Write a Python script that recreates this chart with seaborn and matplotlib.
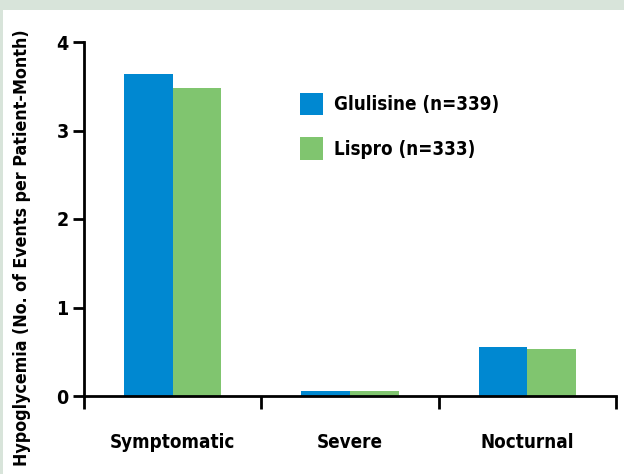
import matplotlib
matplotlib.use("Agg")
import matplotlib.pyplot as plt
import seaborn as sns
import pandas as pd
from matplotlib.patches import Patch, Rectangle

categories = ["Symptomatic", "Severe", "Nocturnal"]
glulisine = [3.64, 0.06, 0.55]
lispro = [3.48, 0.06, 0.53]
series_names = ["Glulisine (n=339)", "Lispro (n=333)"]
colors = ["#0088d1", "#80c56f"]
yticks = [0, 1, 2, 3, 4]

sns.set_style("white")
plt.rcParams["font.family"] = ["DejaVu Sans"]
plt.rcParams["font.stretch"] = "condensed"
plt.rcParams["font.weight"] = "bold"
plt.rcParams["text.color"] = "black"
plt.rcParams["axes.labelcolor"] = "black"
plt.rcParams["xtick.color"] = "black"
plt.rcParams["ytick.color"] = "black"

df = pd.DataFrame({
    "category": categories * 2,
    "value": glulisine + lispro,
    "series": [series_names[0]] * 3 + [series_names[1]] * 3,
})

fig = plt.figure(figsize=(6.24, 4.74), dpi=100)
fig.patch.set_facecolor("white")
fig.patches.append(Rectangle((0, 1 - 10 / 474), 1, 10 / 474, transform=fig.transFigure,
                             facecolor="#d8e4da", edgecolor="none", zorder=0))
fig.patches.append(Rectangle((0, 0), 2.5 / 624, 1, transform=fig.transFigure,
                             facecolor="#d8e4da", edgecolor="none", zorder=0))

ax = fig.add_axes([84 / 624, 1 - 396 / 474, (616 - 84) / 624, (396 - 42) / 474])
sns.barplot(data=df, x="category", y="value", hue="series", palette=colors,
            width=0.55, saturation=1, ax=ax, legend=False, dodge=True, linewidth=0)

ax.set_xlim(-0.5, 2.5)
ax.set_ylim(0, 4)
ax.set_yticks(yticks)
ax.set_yticklabels([str(t) for t in yticks], fontsize=14, fontweight="bold")
ax.set_xticks([-0.5, 0.5, 1.5, 2.5])
ax.set_xticklabels([])
ax.tick_params(axis="x", direction="out", length=9, width=2, color="black", bottom=True)
ax.tick_params(axis="y", direction="out", length=8, width=2, color="black", left=True, pad=3)
for i, c in enumerate(categories):
    ax.text(i, -0.52, c, ha="center", va="center", fontsize=13.5, fontweight="bold")

ax.set_xlabel("")
ax.set_ylabel("Hypoglycemia (No. of Events per Patient-Month)", fontsize=12.8,
              fontweight="bold")
ax.yaxis.set_label_coords(-0.1, 0.42)
for s in ["top", "right"]:
    ax.spines[s].set_visible(False)
for s in ["left", "bottom"]:
    ax.spines[s].set_linewidth(2)
    ax.spines[s].set_color("black")

handles = [Patch(facecolor=colors[0], edgecolor="none"),
           Patch(facecolor=colors[1], edgecolor="none")]
leg = ax.legend(handles, series_names, loc="upper left", bbox_to_anchor=(0.374, 0.905),
                frameon=False, fontsize=13.5, handlelength=1.25, handleheight=1.5,
                labelspacing=1.15, handletextpad=0.55)
for t in leg.get_texts():
    t.set_fontweight("bold")

fig.savefig("out.png", dpi=100)
